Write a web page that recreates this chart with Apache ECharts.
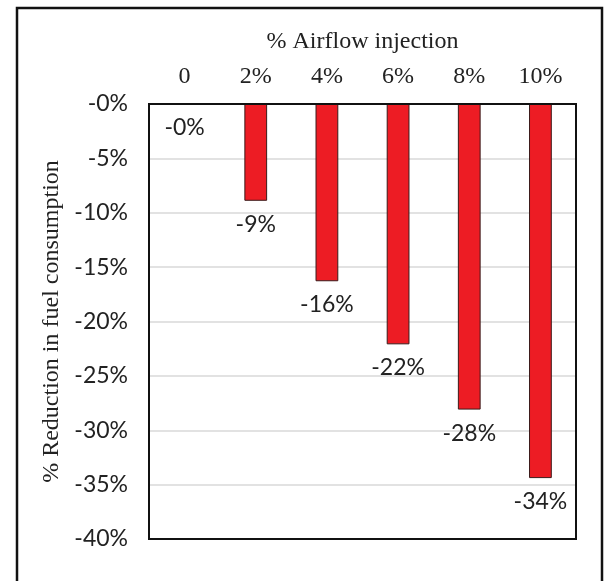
<!DOCTYPE html>
<html><head><meta charset="utf-8">
<script src="https://cdn.jsdelivr.net/npm/echarts@6/dist/echarts.min.js"></script>
<style>html,body{margin:0;padding:0;background:#fff}#c{width:608px;height:581px}</style>
</head><body><div id="c"></div>
<script>
const categories = ['0', '2%', '4%', '6%', '8%', '10%'];
const reduction = [0, -8.9, -16.3, -22.1, -28.1, -34.4];
const valueLabels = ['-0%', '-9%', '-16%', '-22%', '-28%', '-34%'];
const xTitle = '% Airflow injection';
const yTitle = '% Reduction in fuel consumption';

const G = {left: 149, right: 32, top: 104, bottom: 42};
const chart = echarts.init(document.getElementById('c'), null, {renderer: 'canvas'});
chart.setOption({
  backgroundColor: '#fff',
  animation: false,
  graphic: [{
    type: 'rect', shape: {x: 17, y: 8, width: 585, height: 600},
    style: {fill: 'none', stroke: '#111', lineWidth: 2.5}, silent: true
  }, {
    type: 'rect', z: 100,
    shape: {x: G.left, y: G.top, width: 608 - G.left - G.right, height: 581 - G.top - G.bottom},
    style: {fill: 'none', stroke: '#111', lineWidth: 2}, silent: true
  }],
  grid: G,
  xAxis: {
    type: 'category', position: 'top', data: categories,
    name: xTitle, nameLocation: 'middle', nameGap: 50,
    nameTextStyle: {fontFamily: 'Liberation Serif', fontSize: 24, color: '#222'},
    axisLine: {show: false}, axisTick: {show: false},
    axisLabel: {fontFamily: 'Liberation Serif', fontSize: 24, color: '#222', margin: 15}
  },
  yAxis: {
    type: 'value', min: -40, max: 0, interval: 5,
    name: yTitle, nameLocation: 'middle', nameGap: 82, nameRotate: 90,
    nameTextStyle: {fontFamily: 'Liberation Serif', fontSize: 24, color: '#222'},
    axisLine: {show: false}, axisTick: {show: false},
    axisLabel: {fontFamily: 'Lato', fontSize: 23, color: '#222', margin: 21,
      formatter: v => (v === 0 ? '-0' : v) + '%'},
    splitLine: {lineStyle: {color: '#d9d9d9', width: 1.5}}
  },
  series: [{
    type: 'bar', barWidth: '32%',
    data: reduction.map(v => v === 0 ? {value: v, itemStyle: {borderWidth: 0}} : v),
    itemStyle: {color: '#ed1c24', borderColor: '#3a1a1a', borderWidth: 1},
    label: {show: true, position: 'bottom', distance: 12,
      fontFamily: 'Lato', fontSize: 23, color: '#222',
      formatter: p => valueLabels[p.dataIndex]}
  }]
});
</script></body></html>
